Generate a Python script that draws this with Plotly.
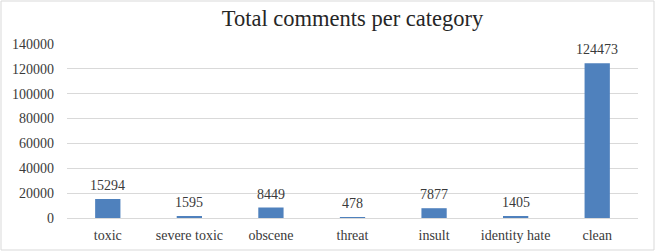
import plotly.graph_objects as go

categories = ["toxic", "severe toxic", "obscene", "threat", "insult", "identity hate", "clean"]
counts = [15294, 1595, 8449, 478, 7877, 1405, 124473]
y_ticks = [0, 20000, 40000, 60000, 80000, 100000, 120000, 140000]

FONT = "Liberation Serif, DejaVu Serif, serif"

fig = go.Figure()
fig.add_trace(go.Bar(x=categories, y=counts, marker=dict(color="#4f81bd", line=dict(width=0))))

for c, v in zip(categories, counts):
    fig.add_annotation(x=c, y=v, text=str(v), showarrow=False, yanchor="bottom", yshift=4,
                       font=dict(family=FONT, size=14, color="#3a3a3a"))

L, R, T, B = 67, 23, 44, 34
W, H = 661, 252
pw, ph = W - L - R, H - T - B
fig.add_shape(type="rect", xref="paper", yref="paper",
              x0=(1 - L) / pw, x1=(654 - L) / pw,
              y0=(H - B - 250) / ph, y1=(H - B - 1) / ph,
              line=dict(color="#d9d9d9", width=1), layer="below")

fig.update_layout(
    width=W, height=H,
    margin=dict(l=L, r=R, t=T, b=B, autoexpand=False),
    paper_bgcolor="white", plot_bgcolor="white",
    bargap=0.69,
    showlegend=False,
    title=dict(text="Total comments per category", x=0.5, xref="paper", y=1 - 18 / H, yanchor="middle",
               font=dict(family=FONT, size=22.5, color="#262626")),
    font=dict(family=FONT, size=14, color="#3a3a3a"),
)
fig.update_xaxes(showgrid=False, showline=True, linecolor="#d9d9d9", ticks="", automargin=False,
                 ticklabelstandoff=4, tickfont=dict(size=14))
fig.update_yaxes(range=[0, 140000], tickvals=y_ticks, ticktext=[str(t) for t in y_ticks],
                 showgrid=True, gridcolor="#d9d9d9", zeroline=False, showline=False, automargin=False,
                 ticks="", ticklabelstandoff=12, tickfont=dict(size=14))

fig.write_html("out.html")
